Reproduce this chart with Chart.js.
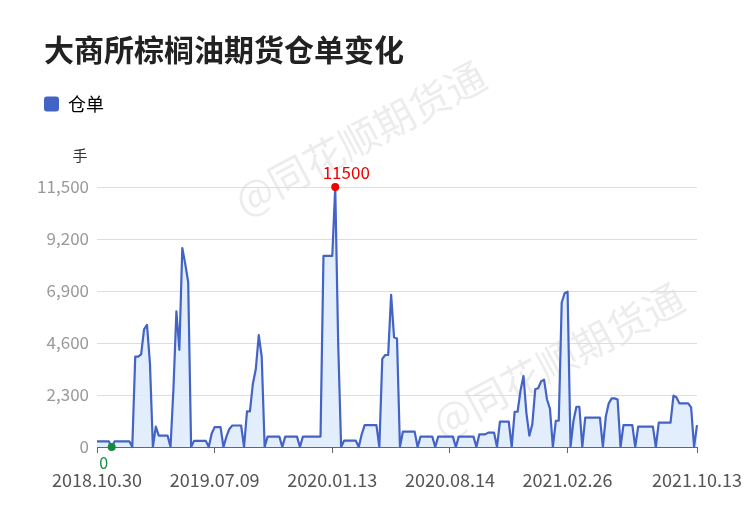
<!DOCTYPE html>
<html>
<head>
<meta charset="utf-8">
<script src="https://cdn.jsdelivr.net/npm/chart.js@4/dist/chart.umd.min.js"></script>
<style>
  html, body { margin: 0; padding: 0; background: #fff; }
  #wrap { width: 750px; height: 510px; }
</style>
</head>
<body>
<div id="wrap"><canvas id="chart" width="750" height="510"></canvas></div>
<script>
const title = '大商所棕榈油期货仓单变化'
const seriesName = '仓单'
const unit = '手'
const watermark = '@同花顺期货通'

// tick labels on the x axis and the point index they sit at
const tickLabels = ['2018.10.30', '2019.07.09', '2020.01.13', '2020.08.14', '2021.02.26', '2021.10.13']
const tickIndex = [0, 40, 80, 120, 160, 204]

// warehouse receipts (手)
const receipts = [
  250, 250, 250, 250, 250, 0, 250, 250, 250, 250,
  250, 250, 0, 4000, 4000, 4100, 5200, 5400, 3700, 0,
  900, 500, 500, 500, 500, 0, 2600, 6000, 4300, 8800,
  8100, 7300, 0, 270, 270, 270, 270, 270, 0, 600,
  880, 880, 880, 0, 460, 800, 950, 950, 950, 950,
  0, 1580, 1580, 2800, 3450, 4950, 4000, 0, 460, 460,
  460, 460, 460, 0, 460, 460, 460, 460, 460, 0,
  460, 460, 460, 460, 460, 460, 460, 8450, 8450, 8450,
  8450, 11500, 4600, 0, 280, 280, 280, 280, 280, 0,
  560, 970, 970, 970, 970, 970, 0, 3900, 4070, 4070,
  6730, 4850, 4800, 0, 680, 680, 680, 680, 680, 0,
  460, 460, 460, 460, 460, 0, 460, 460, 460, 460,
  460, 460, 0, 460, 460, 460, 460, 460, 460, 0,
  560, 560, 560, 635, 635, 635, 0, 1120, 1120, 1120,
  1120, 0, 1560, 1560, 2500, 3140, 1500, 500, 1000, 2550,
  2600, 2900, 2980, 2100, 1700, 0, 1160, 1160, 6390, 6800,
  6870, 0, 1160, 1780, 1780, 0, 1300, 1300, 1300, 1300,
  1300, 1300, 0, 1350, 1930, 2150, 2150, 2100, 0, 970,
  970, 970, 970, 0, 900, 900, 900, 900, 900, 900,
  0, 1075, 1075, 1075, 1075, 1075, 2270, 2200, 1930, 1930,
  1930, 1930, 1750, 0, 970,
]

const lineColor = '#4363c6'
const maxIdx = receipts.indexOf(Math.max(...receipts))
const minIdx = receipts.indexOf(Math.min(...receipts))
const fontFamily = '"Noto Sans CJK SC", "Noto Sans", sans-serif'

Chart.defaults.font.family = fontFamily

// title, watermark, unit label and the max / min labels
const decorations = {
  id: 'decorations',
  beforeDraw(chart) {
    const ctx = chart.ctx
    ctx.save()
    ctx.fillStyle = '#222'
    ctx.font = 'bold 30px ' + fontFamily
    ctx.textAlign = 'left'
    ctx.textBaseline = 'middle'
    ctx.fillText(title, 44, 50)

    ctx.fillStyle = 'rgba(0,0,0,0.075)'
    ctx.font = '40px ' + fontFamily
    ctx.textAlign = 'center'
    for (const [x, y] of [[360, 138], [558, 360]]) {
      ctx.save()
      ctx.translate(x, y)
      ctx.rotate(-28 * Math.PI / 180)
      ctx.fillText(watermark, 0, 0)
      ctx.restore()
    }
    ctx.restore()
  },
  afterDraw(chart) {
    const ctx = chart.ctx
    const area = chart.chartArea
    const pts = chart.getDatasetMeta(0).data
    ctx.save()
    ctx.fillStyle = '#333'
    ctx.font = '15px ' + fontFamily
    ctx.textAlign = 'center'
    ctx.textBaseline = 'middle'
    ctx.fillText(unit, area.left - 17, area.top - 32)

    const pMax = pts[maxIdx]
    ctx.fillStyle = '#f00000'
    ctx.font = '17px ' + fontFamily
    ctx.textBaseline = 'alphabetic'
    ctx.fillText(String(receipts[maxIdx]), pMax.x + 11, pMax.y - 8)

    const pMin = pts[minIdx]
    ctx.fillStyle = '#13893c'
    ctx.font = '16px ' + fontFamily
    ctx.textBaseline = 'middle'
    ctx.fillText(String(receipts[minIdx]), pMin.x - 8, pMin.y + 16)
    ctx.restore()
  },
}

// push the plot down below the legend
const legendGap = {
  id: 'legendGap',
  beforeInit(chart) {
    const fit = chart.legend.fit
    chart.legend.fit = function () {
      fit.bind(chart.legend)()
      this.height = 106
    }
  },
}

new Chart(document.getElementById('chart'), {
  type: 'line',
  data: {
    labels: receipts.map((v, i) => i),
    datasets: [
      {
        label: seriesName,
        data: receipts,
        borderColor: lineColor,
        borderWidth: 2.2,
        backgroundColor: 'rgba(222,235,253,0.85)',
        fill: 'origin',
        tension: 0,
        borderJoinStyle: 'round',
        clip: 8,
        pointRadius: receipts.map((v, i) => (i === maxIdx || i === minIdx ? 4 : 0)),
        pointBackgroundColor: receipts.map((v, i) => (i === maxIdx ? '#f00000' : '#13893c')),
        pointBorderWidth: 0,
        pointHoverRadius: 0,
      },
    ],
  },
  options: {
    responsive: false,
    animation: false,
    layout: { padding: { left: 30, right: 53, top: 81, bottom: 0 } },
    plugins: {
      title: { display: false },
      legend: {
        display: true,
        align: 'start',
        labels: {
          padding: 14,
          boxWidth: 15,
          boxHeight: 15,
          useBorderRadius: true,
          borderRadius: 3,
          color: '#222',
          font: { size: 18 },
          generateLabels: () => [
            { text: seriesName, fillStyle: lineColor, strokeStyle: lineColor, lineWidth: 0, borderRadius: 3, datasetIndex: 0 },
          ],
        },
        onClick: null,
      },
      tooltip: { enabled: false },
    },
    scales: {
      x: {
        type: 'linear',
        min: 0,
        max: receipts.length - 1,
        afterBuildTicks: (s) => {
          s.ticks = tickIndex.map((v) => ({ value: v }))
        },
        afterFit: (s) => {
          s.height = 63
          s.paddingLeft = 0
          s.paddingRight = 0
        },
        ticks: {
          autoSkip: false,
          maxRotation: 0,
          padding: 16,
          color: '#555',
          font: { size: 18 },
          callback: (v) => tickLabels[tickIndex.indexOf(v)],
        },
        grid: { drawOnChartArea: false, drawTicks: true, tickLength: 6, tickColor: '#666' },
        border: { color: '#666', width: 1 },
      },
      y: {
        min: 0,
        max: 11500,
        afterFit: (s) => {
          s.width = 67
        },
        ticks: { stepSize: 2300, padding: 8, color: '#999', font: { size: 17 } },
        grid: { color: '#ddd', drawTicks: false },
        border: { display: false },
      },
    },
  },
  plugins: [decorations, legendGap],
})
</script>
</body>
</html>
